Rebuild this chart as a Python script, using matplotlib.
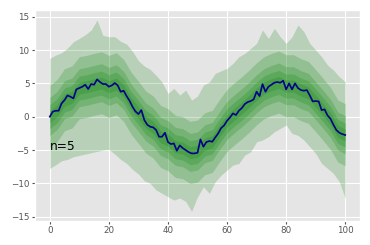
import matplotlib
matplotlib.use("Agg")
import matplotlib.pyplot as plt

plt.style.use("ggplot")

# median line, x = 0..100
x_med = list(range(101))
median = [0.0, 0.75, 0.9, 0.9, 2.0, 2.5, 3.2, 3.0, 2.75, 4.1,
          4.3, 4.5, 4.8, 4.15, 4.9, 4.8, 5.6, 5.2, 4.9, 4.9,
          4.5, 4.7, 5.05, 4.7, 3.75, 3.9, 3.1, 2.4, 1.5, 0.8,
          0.4, 1.0, -0.5, -1.2, -1.5, -1.6, -2.0, -3.0, -3.0, -2.4,
          -3.8, -4.1, -4.0, -5.1, -4.3, -4.7, -5.0, -5.3, -5.5, -5.5,
          -5.4, -3.4, -4.5, -3.8, -3.65, -3.75, -3.1, -2.5, -1.7, -1.3,
          -0.6, -0.1, 0.5, 0.25, 0.9, 1.3, 1.9, 2.2, 2.35, 2.6,
          3.75, 3.1, 4.9, 3.75, 4.5, 4.8, 5.1, 5.2, 5.1, 5.4,
          4.1, 5.0, 4.1, 5.0, 4.3, 4.0, 3.9, 4.0, 3.2, 2.3,
          2.35, 2.3, 1.0, 1.1, 0.2, -0.3, -1.2, -2.0, -2.4, -2.6,
          -2.75]

# outermost band (1st - 99th percentile), x = 0,2,...,100
x_outer = list(range(0, 101, 2))
outer_hi = [8.75, 9.25, 9.6, 10.3, 11.25, 11.75, 12.3, 13.0, 14.5, 12.2,
            12.0, 12.0, 11.3, 10.9, 9.8, 8.4, 7.6, 7.1, 6.2, 5.2,
            3.5, 4.25, 3.25, 4.0, 2.5, 3.1, 4.75, 5.2, 6.5, 6.9,
            7.25, 8.0, 9.0, 9.5, 10.25, 11.0, 13.0, 11.75, 13.25, 12.0,
            11.0, 12.0, 13.75, 12.75, 11.0, 10.0, 9.0, 7.75, 7.0, 6.0,
            5.25]
outer_lo = [-7.75, -7.2, -6.6, -6.4, -6.0, -5.8, -5.6, -5.4, -5.2, -5.0,
            -4.9, -5.6, -6.4, -7.0, -7.9, -8.6, -9.6, -10.0, -11.0, -11.5,
            -12.0, -12.5, -12.2, -12.7, -14.2, -12.0, -10.5, -11.5, -9.75, -8.75,
            -8.0, -7.25, -7.0, -5.75, -5.25, -3.75, -3.5, -3.0, -2.25, -1.75,
            -1.25, -2.5, -2.8, -3.5, -4.5, -5.5, -7.0, -7.75, -8.5, -9.75,
            -12.25]

# inner bands, x = 0,2.5,...,100
x_inner = [i * 2.5 for i in range(41)]
b2_hi = [4.7, 5.6, 7.2, 7.6, 9.0, 9.2, 9.5, 9.75, 9.2, 9.6, 8.6, 6.7, 5.3, 3.85, 3.1, 1.7, 1.2, 0.2, 0.0, -0.7,
         -0.5, 0.6, 0.95, 2.6, 4.1, 5.1, 6.0, 7.0, 8.1, 9.0, 9.5, 9.85, 9.3, 9.3, 8.7, 8.3, 7.05, 5.75, 4.4, 2.5, 1.95]
b2_lo = [-4.6, -3.7, -2.1, -1.7, -0.3, -0.1, 0.2, 0.45, -0.1, 0.3, -0.7, -2.6, -4.0, -5.45, -6.2, -7.6, -8.1, -9.1, -9.3, -10.0,
         -9.8, -8.7, -8.35, -6.7, -5.2, -4.2, -3.3, -2.3, -1.2, -0.3, 0.2, 0.55, 0.0, 0.0, -0.6, -1.0, -2.25, -3.55, -4.9, -6.8, -7.35]
b3_hi = [2.9, 3.8, 5.4, 5.8, 7.2, 7.4, 7.7, 7.95, 7.4, 7.8, 6.8, 4.9, 3.5, 2.05, 1.3, -0.1, -0.6, -1.6, -1.8, -2.5,
         -2.3, -1.2, -0.85, 0.8, 2.3, 3.3, 4.2, 5.2, 6.3, 7.2, 7.7, 8.05, 7.5, 7.5, 6.9, 6.5, 5.25, 3.95, 2.6, 0.7, 0.15]
b3_lo = [-2.8, -1.9, -0.3, 0.1, 1.5, 1.7, 2.0, 2.25, 1.7, 2.1, 1.1, -0.8, -2.2, -3.65, -4.4, -5.8, -6.3, -7.3, -7.5, -8.2,
         -8.0, -6.9, -6.55, -4.9, -3.4, -2.4, -1.5, -0.5, 0.6, 1.5, 2.0, 2.35, 1.8, 1.8, 1.2, 0.8, -0.45, -1.75, -3.1, -5.0, -5.55]
b4_hi = [1.8, 2.7, 4.3, 4.7, 6.1, 6.3, 6.6, 6.85, 6.3, 6.7, 5.7, 3.8, 2.4, 0.95, 0.2, -1.2, -1.7, -2.7, -2.9, -3.6,
         -3.4, -2.3, -1.95, -0.3, 1.2, 2.2, 3.1, 4.1, 5.2, 6.1, 6.6, 6.95, 6.4, 6.4, 5.8, 5.4, 4.15, 2.85, 1.5, -0.4, -0.95]
b4_lo = [-1.8, -0.9, 0.7, 1.1, 2.5, 2.7, 3.0, 3.25, 2.7, 3.1, 2.1, 0.2, -1.2, -2.65, -3.4, -4.8, -5.3, -6.3, -6.5, -7.2,
         -7.0, -5.9, -5.55, -3.9, -2.4, -1.4, -0.5, 0.5, 1.6, 2.5, 3.0, 3.35, 2.8, 2.8, 2.2, 1.8, 0.55, -0.75, -2.1, -4.0, -4.55]
b5_hi = [0.9, 1.8, 3.4, 3.8, 5.2, 5.4, 5.7, 5.95, 5.4, 5.8, 4.8, 2.9, 1.5, 0.05, -0.7, -2.1, -2.6, -3.6, -3.8, -4.5,
         -4.3, -3.2, -2.85, -1.2, 0.3, 1.3, 2.2, 3.2, 4.3, 5.2, 5.7, 6.05, 5.5, 5.5, 4.9, 4.5, 3.25, 1.95, 0.6, -1.3, -1.85]
b5_lo = [-0.9, 0.0, 1.6, 2.0, 3.4, 3.6, 3.9, 4.15, 3.6, 4.0, 3.0, 1.1, -0.3, -1.75, -2.5, -3.9, -4.4, -5.4, -5.6, -6.3,
         -6.1, -5.0, -4.65, -3.0, -1.5, -0.5, 0.4, 1.4, 2.5, 3.4, 3.9, 4.25, 3.7, 3.7, 3.1, 2.7, 1.45, 0.15, -1.2, -3.1, -3.65]

label = "n=5"
xticks = [0, 20, 40, 60, 80, 100]
yticks = [-15, -10, -5, 0, 5, 10, 15]

fig = plt.figure(figsize=(3.7, 2.45), dpi=100)
ax = fig.add_axes([0.0946, 0.099, 0.8784, 0.860])

alpha = 0.2
ax.fill_between(x_outer, outer_lo, outer_hi, color="green", alpha=alpha, linewidth=0)
for lo, hi in [(b2_lo, b2_hi), (b3_lo, b3_hi), (b4_lo, b4_hi), (b5_lo, b5_hi)]:
    ax.fill_between(x_inner, lo, hi, color="green", alpha=alpha, linewidth=0)

ax.plot(x_med, median, color="darkblue", linewidth=1.2)
ax.text(0, -5, label, fontsize=8.8, color="black")

ax.set_xlim(-5, 105)
ax.set_ylim(-15.6, 16.0)
ax.set_xticks(xticks)
ax.set_yticks(yticks)
ax.tick_params(labelsize=6.3, length=2, pad=2, colors="#555555")
ax.grid(True, color="white", linewidth=0.8)

fig.savefig("out.png", dpi=100)
